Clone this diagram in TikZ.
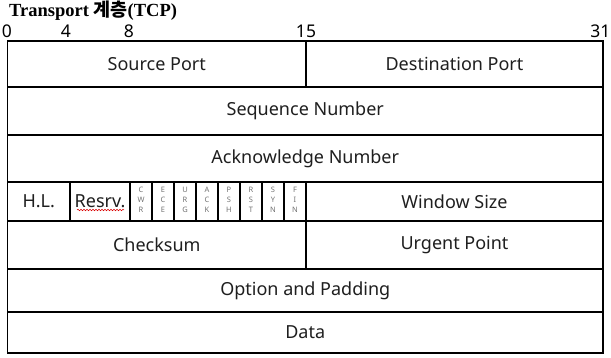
\documentclass[tikz,border=0pt]{standalone}
\usepackage{fontspec}
\setmainfont{Liberation Serif}
\setsansfont{Noto Sans}
\newfontfamily\krfont{Noto Sans CJK KR}
\usetikzlibrary{decorations.pathmorphing}
\begin{document}
\begin{tikzpicture}[x=1pt,y=-1pt,
  cell/.style={font=\sffamily\fontsize{18}{20}\selectfont, text=black!88, inner sep=0pt},
  flag/.style={font=\sffamily\fontsize{7.5}{9.8}\selectfont, align=center, text=black!55, inner sep=0pt},
  bitnum/.style={font=\sffamily\fontsize{17.5}{19}\selectfont, inner sep=0pt},
  grid/.style={line width=1.6pt, draw=black}]
\useasboundingbox (0,0) rectangle (611,358);
\fill[white] (0,0) rectangle (611,358);

% title and bit numbers
\node[anchor=west, inner sep=0pt, font=\bfseries\fontsize{18.5}{21}\selectfont] (title) at (9,10.5) {Transport {\krfont 계층}(TCP)};
\node[bitnum] (b0) at (7,31) {0};
\node[bitnum] (b4) at (66,31) {4};
\node[bitnum] (b8) at (129,31) {8};
\node[bitnum] (b15) at (306,31) {15};
\node[bitnum, anchor=east] (b31) at (610.5,31) {31};

% rows
\draw[grid] (7.5,41) rectangle (603,87);
\draw[grid] (7.5,87) rectangle (603,135);
\draw[grid] (7.5,135) rectangle (603,182);
\draw[grid] (7.5,182) rectangle (603,221);
\draw[grid] (7.5,221) rectangle (603,269);
\draw[grid] (7.5,269) rectangle (603,312);
\draw[grid] (7.5,312) rectangle (603,353);
% vertical dividers
\draw[grid] (306,41) -- (306,87);
\draw[grid] (306,182) -- (306,269);
\draw[grid] (70,182) -- (70,221);
\foreach \x in {130,152,174,196,218,240,262,284}
  \draw[line width=1.4pt] (\x,182) -- (\x,221);

% texts
\node[cell] (src) at (156.75,64) {Source Port};
\node[cell] (dst) at (454.5,64) {Destination Port};
\node[cell] (seq) at (305.25,111) {Sequence Number};
\node[cell] (ack) at (305.25,158.5) {Acknowledge Number};
\node[cell] (hl) at (38.75,201.5) {H.L.};
\node[cell] (resrv) at (100,201.5) {Resrv.};
\node[cell] (win) at (454.5,201.5) {Window Size};
\node[cell] (chk) at (156.75,245) {Checksum};
\node[cell] (urg) at (454.5,245) {Urgent Point};
\node[cell] (opt) at (305.25,290.5) {Option and Padding};
\node[cell] (data) at (305.25,332.5) {Data};

\draw[red!85!black, line width=0.5pt, decorate, decoration={snake, amplitude=0.8pt, segment length=3pt}] (77,210) -- (124,210);

% flags
\node[flag] (fcwr) at (141,200) {C\\W\\R};
\node[flag] (fece) at (163,200) {E\\C\\E};
\node[flag] (furg) at (185,200) {U\\R\\G};
\node[flag] (fack) at (207,200) {A\\C\\K};
\node[flag] (fpsh) at (229,200) {P\\S\\H};
\node[flag] (frst) at (251,200) {R\\S\\T};
\node[flag] (fsyn) at (273,200) {S\\Y\\N};
\node[flag] (ffin) at (295,200) {F\\I\\N};
\end{tikzpicture}
\end{document}
